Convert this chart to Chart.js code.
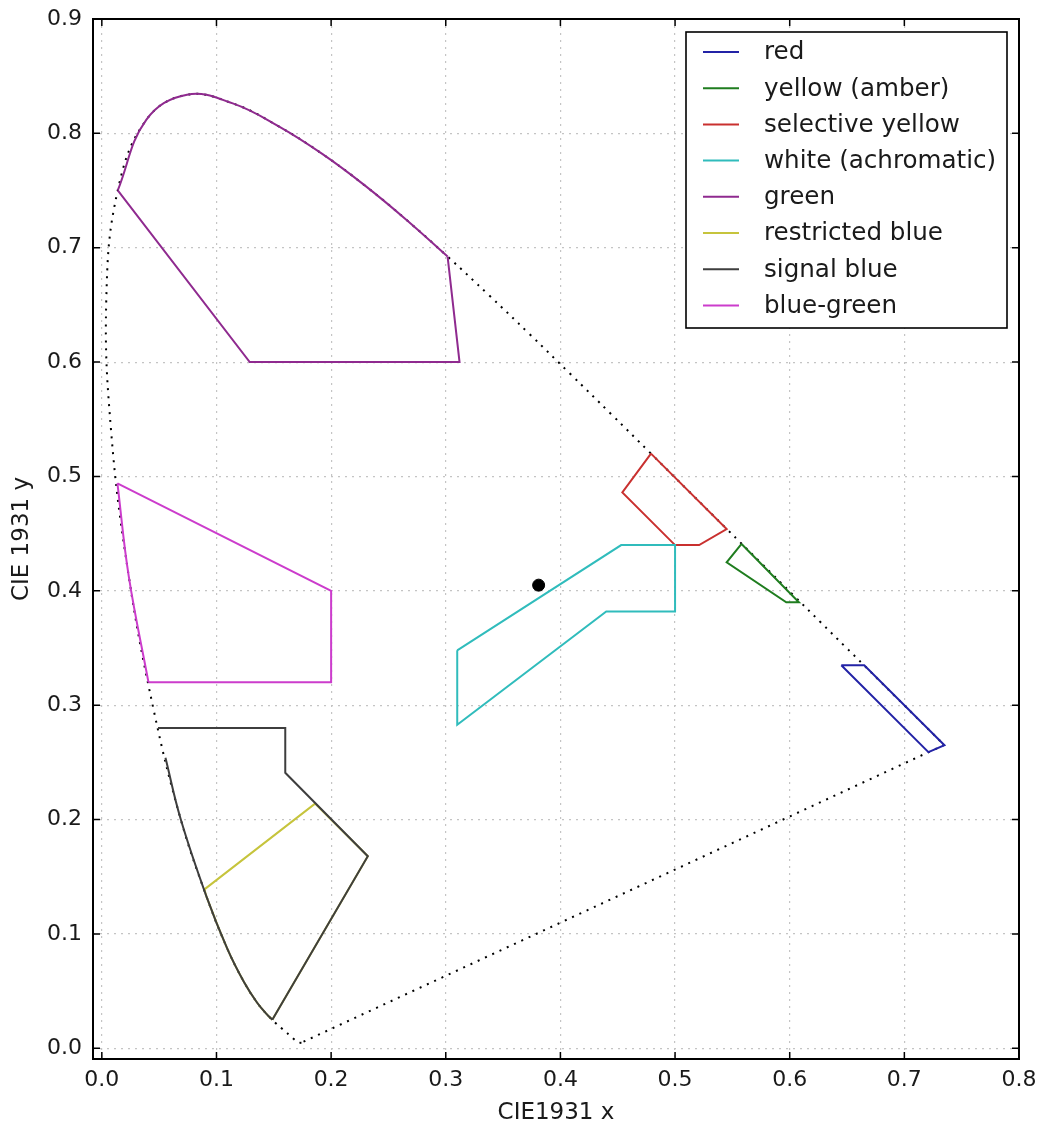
<!DOCTYPE html>
<html>
<head>
<meta charset="utf-8">
<script src="https://cdn.jsdelivr.net/npm/chart.js@4.4.1/dist/chart.umd.min.js"></script>
<style>
  html, body { margin: 0; padding: 0; background: #fff; }
  #chart { display: block; }
</style>
</head>
<body>
<canvas id="chart" width="1040" height="1131"></canvas>
<script>
// axis ticks
var xTicks = [0.0, 0.1, 0.2, 0.3, 0.4, 0.5, 0.6, 0.7, 0.8];
var yTicks = [0.0, 0.1, 0.2, 0.3, 0.4, 0.5, 0.6, 0.7, 0.8, 0.9];

// CIE 1931 spectral locus, 380..700 nm every 5 nm
var locusX = [0.1741,0.1740,0.1738,0.1736,0.1733,0.1730,0.1726,0.1721,0.1714,
  0.1703,0.1689,0.1669,0.1644,0.1611,0.1566,0.1510,0.1440,0.1355,0.1241,0.1096,
  0.0913,0.0687,0.0454,0.0235,0.0082,0.0039,0.0139,0.0389,0.0743,0.1142,0.1547,
  0.1929,0.2296,0.2658,0.3016,0.3373,0.3731,0.4087,0.4441,0.4788,0.5125,0.5448,
  0.5752,0.6029,0.6270,0.6482,0.6658,0.6801,0.6915,0.7006,0.7079,0.7140,0.7190,
  0.7230,0.7260,0.7283,0.7300,0.7311,0.7320,0.7327,0.7334,0.7340,0.7344,0.7346,0.7347];
var locusY = [0.0050,0.0050,0.0049,0.0049,0.0048,0.0048,0.0048,0.0048,0.0051,
  0.0058,0.0069,0.0086,0.0109,0.0138,0.0177,0.0227,0.0297,0.0399,0.0578,0.0868,
  0.1327,0.2007,0.2950,0.4127,0.5384,0.6548,0.7502,0.8120,0.8338,0.8262,0.8059,
  0.7816,0.7543,0.7243,0.6923,0.6589,0.6245,0.5896,0.5547,0.5202,0.4866,0.4544,
  0.4242,0.3965,0.3725,0.3514,0.3340,0.3197,0.3083,0.2993,0.2920,0.2859,0.2809,
  0.2770,0.2740,0.2717,0.2700,0.2689,0.2680,0.2673,0.2666,0.2660,0.2656,0.2654,0.2653];
// line of purples
var purpleX = [0.7347, 0.1741];
var purpleY = [0.2653, 0.0050];

// signal colour regions
var redX = [0.645, 0.665, 0.735, 0.721, 0.645];
var redY = [0.335, 0.335, 0.265, 0.259, 0.335];

var amberX = [0.558, 0.545, 0.597, 0.608, 0.558];
var amberY = [0.441, 0.425, 0.390, 0.390, 0.441];

var selYellowX = [0.479, 0.454, 0.500, 0.521, 0.545, 0.479];
var selYellowY = [0.520, 0.486, 0.440, 0.440, 0.454, 0.520];

var whiteX = [0.310, 0.453, 0.500, 0.500, 0.440, 0.310, 0.310];
var whiteY = [0.348, 0.440, 0.440, 0.382, 0.382, 0.283, 0.348];

var greenArcX = [0.0139,0.0389,0.0743,0.1142,0.1547,0.1929,0.2296,0.2658,0.3016];
var greenArcY = [0.7502,0.8120,0.8338,0.8262,0.8059,0.7816,0.7543,0.7243,0.6923];
var greenEdgeX = [0.3016, 0.312, 0.129, 0.0139];
var greenEdgeY = [0.6923, 0.600, 0.600, 0.7502];

var restBlueArcX = [0.0895, 0.0913, 0.1096, 0.1241, 0.1355, 0.1440, 0.1487];
var restBlueArcY = [0.139, 0.1327, 0.0868, 0.0578, 0.0399, 0.0297, 0.025];
var restBlueEdgeX = [0.0895, 0.186, 0.232, 0.1487];
var restBlueEdgeY = [0.139, 0.214, 0.168, 0.025];

var sigBlueArcX = [0.0555, 0.0687, 0.0913, 0.1096, 0.1241, 0.1355, 0.1440, 0.1487];
var sigBlueArcY = [0.254, 0.2007, 0.1327, 0.0868, 0.0578, 0.0399, 0.0297, 0.025];
var sigBlueEdgeX = [0.1487, 0.232, 0.160, 0.160, 0.049];
var sigBlueEdgeY = [0.025, 0.168, 0.241, 0.280, 0.280];

var blueGreenArcX = [0.0407, 0.0235, 0.0136];
var blueGreenArcY = [0.320, 0.4127, 0.494];
var blueGreenEdgeX = [0.0136, 0.200, 0.200, 0.0407];
var blueGreenEdgeY = [0.494, 0.400, 0.320, 0.320];

var markX = [0.381];
var markY = [0.405];

var regionNames = ['red', 'yellow (amber)', 'selective yellow', 'white (achromatic)',
  'green', 'restricted blue', 'signal blue', 'blue-green'];
var regionColors = ['#2323a6', '#1f7d1f', '#c9302f', '#30bcbc',
  '#8f2a8f', '#c6c43c', '#3e3e3e', '#cc3ccc'];

var FONT = 'DejaVu Sans';

function pts(xs, ys) {
  return xs.map(function (x, i) { return { x: x, y: ys[i] }; });
}

function line(xs, ys, color, order, extra) {
  var ds = {
    data: pts(xs, ys),
    showLine: true,
    borderColor: color,
    borderWidth: 2,
    pointRadius: 0,
    pointHoverRadius: 0,
    fill: false,
    tension: 0,
    order: order
  };
  for (var k in extra) ds[k] = extra[k];
  return ds;
}

var dotted = { borderDash: [2, 6], borderWidth: 2, borderCapStyle: 'butt' };
var smooth = { tension: 0.4 };

var datasets = [
  line(locusX, locusY, '#000', 30, Object.assign({ tension: 0.4 }, dotted)),
  line(purpleX, purpleY, '#000', 30, dotted),
  line(redX, redY, regionColors[0], 9),
  line(amberX, amberY, regionColors[1], 8),
  line(selYellowX, selYellowY, regionColors[2], 7),
  line(whiteX, whiteY, regionColors[3], 6),
  line(greenArcX, greenArcY, regionColors[4], 5, smooth),
  line(greenEdgeX, greenEdgeY, regionColors[4], 5),
  line(restBlueArcX, restBlueArcY, regionColors[5], 4, smooth),
  line(restBlueEdgeX, restBlueEdgeY, regionColors[5], 4),
  line(sigBlueArcX, sigBlueArcY, regionColors[6], 3, smooth),
  line(sigBlueEdgeX, sigBlueEdgeY, regionColors[6], 3),
  line(blueGreenArcX, blueGreenArcY, regionColors[7], 2, smooth),
  line(blueGreenEdgeX, blueGreenEdgeY, regionColors[7], 2),
  {
    data: pts(markX, markY),
    showLine: false,
    pointRadius: 6,
    pointBackgroundColor: '#000',
    pointBorderColor: '#000',
    order: 1
  }
];

// box around the axes plus inward ticks on all four sides
var framePlugin = {
  id: 'frame',
  afterDraw: function (chart) {
    var a = chart.chartArea, c = chart.ctx;
    var sx = chart.scales.x, sy = chart.scales.y;
    c.save();
    c.strokeStyle = '#000';
    c.lineWidth = 1.5;
    c.beginPath();
    xTicks.forEach(function (v) {
      var px = sx.getPixelForValue(v);
      c.moveTo(px, a.bottom); c.lineTo(px, a.bottom - 7);
      c.moveTo(px, a.top); c.lineTo(px, a.top + 7);
    });
    yTicks.forEach(function (v) {
      var py = sy.getPixelForValue(v);
      c.moveTo(a.left, py); c.lineTo(a.left + 7, py);
      c.moveTo(a.right, py); c.lineTo(a.right - 7, py);
    });
    c.stroke();
    c.lineWidth = 2;
    c.strokeRect(a.left, a.top, a.right - a.left, a.bottom - a.top);
    c.restore();
  }
};

// legend box in the upper right corner
var legendPlugin = {
  id: 'boxLegend',
  afterDraw: function (chart) {
    var c = chart.ctx;
    var bx = 686, by = 32, bw = 321, bh = 296;
    c.save();
    c.fillStyle = '#fff';
    c.fillRect(bx, by, bw, bh);
    c.strokeStyle = '#000';
    c.lineWidth = 1.6;
    c.strokeRect(bx, by, bw, bh);
    c.font = '24.6px "' + FONT + '"';
    c.textBaseline = 'middle';
    c.textAlign = 'left';
    regionNames.forEach(function (name, i) {
      var yy = 52 + i * 36.2;
      c.strokeStyle = regionColors[i];
      c.lineWidth = 2;
      c.beginPath();
      c.moveTo(703, yy); c.lineTo(739, yy);
      c.stroke();
      c.fillStyle = '#1a1a1a';
      c.fillText(name, 764, yy + 1);
    });
    c.restore();
  }
};

var tickFont = { family: FONT, size: 22, lineHeight: 1.2 };
var titleFont = { family: FONT, size: 23, lineHeight: 1.2 };

function noPad(s) {
  s.paddingLeft = 0; s.paddingRight = 0; s.paddingTop = 0; s.paddingBottom = 0;
}

new Chart(document.getElementById('chart'), {
  type: 'scatter',
  data: { datasets: datasets },
  options: {
    responsive: false,
    animation: false,
    events: [],
    layout: { padding: { top: 19, right: 21, bottom: 0, left: 0 } },
    plugins: { legend: { display: false }, tooltip: { enabled: false } },
    scales: {
      x: {
        type: 'linear',
        min: -0.0077,
        max: 0.8,
        afterFit: function (s) { s.height = 72; noPad(s); },
        afterBuildTicks: function (s) { s.ticks = xTicks.map(function (v) { return { value: v }; }); },
        ticks: {
          font: tickFont, color: '#1a1a1a', padding: 8, maxRotation: 0, autoSkip: false,
          callback: function (v) { return Number(v).toFixed(1); }
        },
        grid: { color: '#c4c4c4', lineWidth: 1.2, drawTicks: false },
        border: { display: false, dash: [2, 5] },
        title: { display: true, text: 'CIE1931 x', font: titleFont, color: '#1a1a1a', padding: { top: 0, bottom: 4 } }
      },
      y: {
        type: 'linear',
        min: -0.0093,
        max: 0.9,
        afterFit: function (s) { s.width = 93; noPad(s); },
        afterBuildTicks: function (s) { s.ticks = yTicks.map(function (v) { return { value: v }; }); },
        ticks: {
          font: tickFont, color: '#1a1a1a', padding: 11, autoSkip: false,
          callback: function (v) { return Number(v).toFixed(1); }
        },
        grid: { color: '#c4c4c4', lineWidth: 1.2, drawTicks: false },
        border: { display: false, dash: [2, 5] },
        title: { display: true, text: 'CIE 1931 y', font: titleFont, color: '#1a1a1a', padding: { top: 8, bottom: 0 } }
      }
    }
  },
  plugins: [framePlugin, legendPlugin]
});
</script>
</body>
</html>
